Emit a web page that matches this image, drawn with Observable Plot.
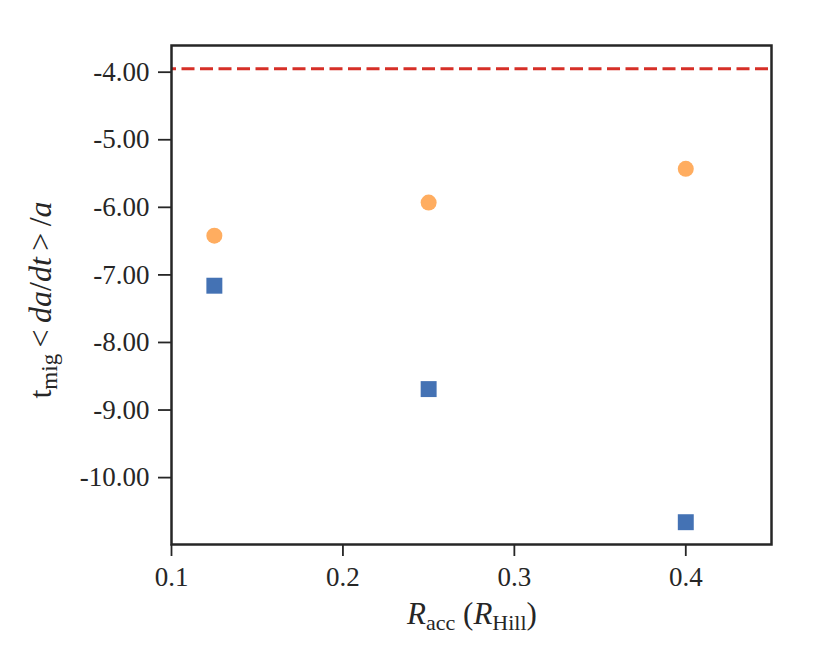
<!DOCTYPE html>
<html>
<head>
<meta charset="utf-8">
<script src="https://cdn.jsdelivr.net/npm/d3@7"></script>
<script src="https://cdn.jsdelivr.net/npm/@observablehq/plot@0.6"></script>
<style>
  html, body { margin: 0; padding: 0; background: #fff; }
</style>
</head>
<body>
<div id="chart"></div>
<script>
const rAcc = [0.125, 0.25, 0.4];
const orangeValues = [-6.42, -5.93, -5.43];
const blueValues = [-7.16, -8.69, -10.66];
const refLine = [-3.95];
const xTicks = [0.1, 0.2, 0.3, 0.4];
const yTicks = [-4, -5, -6, -7, -8, -9, -10];

const orangeData = rAcc.map((x, i) => ({x, y: orangeValues[i]}));
const blueData = rAcc.map((x, i) => ({x, y: blueValues[i]}));

const ink = "#262626";
const font = "'Liberation Serif', 'DejaVu Serif', serif";

const plot = Plot.plot({
  width: 830,
  height: 664,
  marginLeft: 171,
  marginRight: 59,
  marginTop: 45,
  marginBottom: 120,
  style: {fontFamily: font, fontSize: "27px", color: ink, background: "#fff"},
  x: {domain: [0.1, 0.45], label: null},
  y: {domain: [-10.99, -3.605], label: null},
  marks: [
    Plot.ruleY(refLine, {stroke: "#d62f27", strokeWidth: 3, strokeDasharray: "13,5.5", strokeDashoffset: 8}),
    Plot.dot(orangeData, {x: "x", y: "y", r: 8, fill: "#ffad60", stroke: "none", symbol: "circle"}),
    Plot.dot(blueData, {x: "x", y: "y", r: 9, fill: "#4472b4", stroke: "none", symbol: "square"}),
    Plot.frame({stroke: ink, strokeWidth: 2.5}),
    Plot.axisX({ticks: xTicks, tickFormat: d => d.toFixed(1), tickSize: 12, tickPadding: 10, stroke: ink, strokeWidth: 1.8, label: null, fill: ink}),
    Plot.axisY({ticks: yTicks, tickFormat: d => d.toFixed(2), tickSize: 13, tickPadding: 9, stroke: ink, strokeWidth: 1.8, label: null, fill: ink})
  ]
});

const svg = d3.select(plot);
svg.selectAll("g[aria-label$='tick label']")
  .attr("font-family", null)
  .attr("font-size", null)
  .style("font-family", font)
  .style("font-size", "27px")
  .style("font-variant-numeric", "normal");

// y-axis label
const yl = svg.append("text")
  .attr("transform", "translate(51,300) rotate(-90)")
  .attr("text-anchor", "middle")
  .attr("fill", ink)
  .style("font-family", font)
  .style("font-size", "32px");
yl.append("tspan").text("t");
yl.append("tspan").attr("dy", 6).style("font-size", "23px").text("mig");
yl.append("tspan").attr("dy", -6).text("\u2009<\u2009");
yl.append("tspan").style("font-style", "italic").text("da");
yl.append("tspan").text("/");
yl.append("tspan").style("font-style", "italic").text("dt");
yl.append("tspan").text("\u2009>\u2009/");
yl.append("tspan").style("font-style", "italic").text("a");

// x-axis label
const xl = svg.append("text")
  .attr("x", 472)
  .attr("y", 624)
  .attr("text-anchor", "middle")
  .attr("fill", ink)
  .style("font-family", font)
  .style("font-size", "31px");
xl.append("tspan").style("font-style", "italic").text("R");
xl.append("tspan").attr("dy", 6).style("font-size", "22px").text("acc");
xl.append("tspan").attr("dy", -6).text(" (");
xl.append("tspan").style("font-style", "italic").text("R");
xl.append("tspan").attr("dy", 6).style("font-size", "22px").text("Hill");
xl.append("tspan").attr("dy", -6).text(")");

document.getElementById("chart").appendChild(plot);
</script>
</body>
</html>
